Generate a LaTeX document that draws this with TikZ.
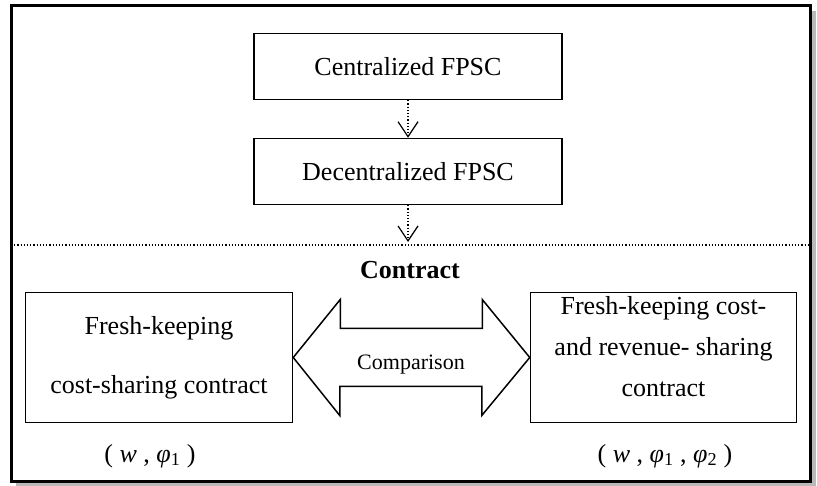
\documentclass[tikz,border=0pt]{standalone}
\usepackage{fontspec}
\setmainfont{Liberation Serif}
\usetikzlibrary{positioning,arrows.meta}

\begin{document}
\begin{tikzpicture}[x=1pt,y=-1pt,
    box/.style={draw,line width=1.5pt,inner sep=0pt,align=center,font=\fontsize{26}{30}\selectfont},
    flow/.style={dotted,line width=1.2pt,-{Straight Barb[length=15pt,width=20pt,line width=1.2pt]}}]
  \useasboundingbox (0,0) rectangle (817,486);
  % frame with its shadow
  \fill[gray!55] (16,11) rectangle (816,486);
  \draw[line width=3pt,fill=white] (11,6) rectangle (810,481);
  \node[box,minimum width=308pt,minimum height=66pt](cent) at (408,66.5){Centralized FPSC};
  \node[box,minimum width=308pt,minimum height=66pt](decent) at (408,171.5){Decentralized FPSC};
  \coordinate (sepl) at (11,245);
  \coordinate (sepr) at (810,245);
  \coordinate (sepm) at (408,242);
  \draw[dotted,line width=1.2pt] (sepl) -- (sepr);
  \draw[flow] (cent) -- (decent);
  \draw[flow] (decent) -- (sepm);
  \node[font=\fontsize{26}{30}\selectfont\bfseries](contract) at (410,270){Contract};
  \node[box,minimum width=267pt,minimum height=130pt](lbox) at (159,357.5){Fresh-keeping\\[29pt]cost-sharing contract};
  \node[box,minimum width=266pt,minimum height=130pt](rbox) at (663.5,357.5){};
  \node[align=center,font=\fontsize{26}{41}\selectfont](rtext) at (663.5,347){Fresh-keeping cost-\\and revenue- sharing\\contract};
  % comparison arrow
  \draw[line width=1.5pt] (lbox.east) -- ++(47,-58) -- ++(0,29) -- ++(142,0) -- ++(0,-29)
    -- (rbox.west) -- ++(-48,58) -- ++(0,-29) -- ++(-142,0) -- ++(0,29) -- cycle;
  \node[font=\fontsize{22}{26}\selectfont](cmp) at (411,365){Comparison};
  \node[font=\fontsize{26}{30}\selectfont](lpar) at (150,456){( \textit{w} , \textit{φ}\textsubscript{1} )};
  \node[font=\fontsize{26}{30}\selectfont](rpar) at (665,456){( \textit{w} , \textit{φ}\textsubscript{1} , \textit{φ}\textsubscript{2} )};
\end{tikzpicture}
\end{document}
